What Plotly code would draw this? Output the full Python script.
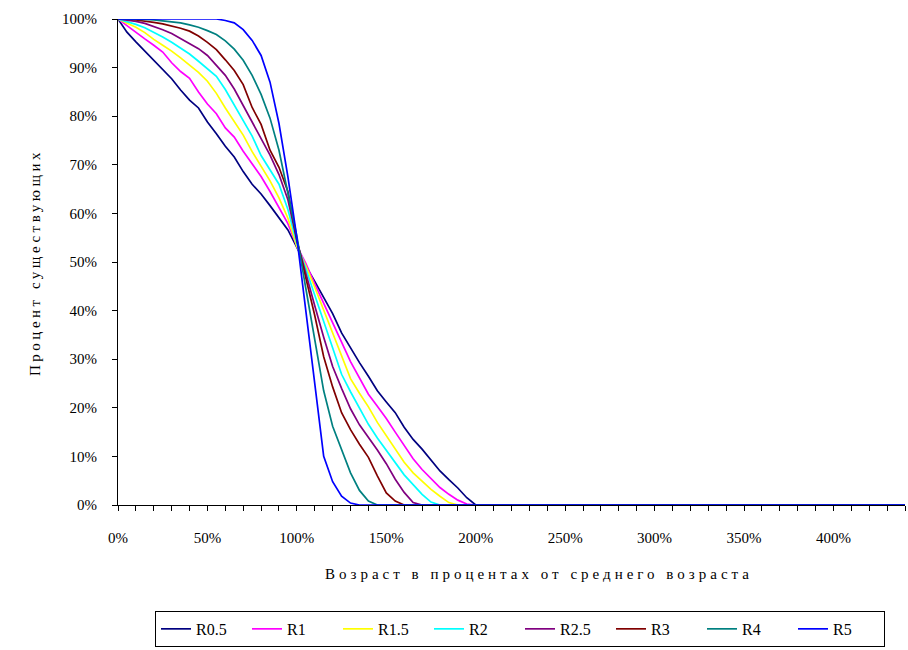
import plotly.graph_objects as go

# Age as a percentage of average age (x), survivors in percent (y)
AGE = list(range(0, 201, 5)) + [440]

R05 = [100, 97.3, 95.3, 93.4, 91.4, 89.6, 87.7, 85.4, 83.3, 81.7, 78.8, 76.4, 73.8, 71.6,
       68.6, 66, 64, 61.6, 59.2, 56.6, 53, 49.2, 46, 42.7, 39.4, 35.4, 32.2, 29.3, 26.5,
       23.5, 21.2, 19, 16, 13.5, 11.5, 9.3, 7, 5.2, 3.5, 1.5, 0, 0]
R1 = [100, 98.6, 97.2, 95.9, 94.6, 93.2, 91, 89.2, 87.8, 85, 82.5, 80.5, 77.6, 75.7, 72.8,
      70.3, 67.6, 64.5, 61.1, 57.9, 53.3, 49.7, 45.5, 41.6, 37.5, 33.5, 29.5, 26, 22.8,
      20.3, 17.8, 15, 12.2, 9.5, 7.3, 5.4, 3.6, 2.2, 1, 0.2, 0, 0]
R15 = [100, 99.2, 98.3, 97.2, 95.8, 94.6, 93.4, 92, 90.5, 89, 87.2, 84.7, 81.7, 78.9, 76.1,
       72.7, 69.6, 66.7, 63.2, 59, 53.2, 49.2, 44.8, 40.2, 35.5, 30.8, 26, 23, 20.2, 17,
       14.2, 11.5, 8.8, 6.6, 4.8, 3.2, 1.8, 0.5, 0, 0, 0, 0]
R2 = [100, 99.5, 98.9, 98.2, 97.3, 96.3, 95.2, 94, 92.8, 91.3, 89.8, 88.2, 85.5, 82.3, 79.2,
      75.9, 71.9, 68.8, 66, 60.8, 53.8, 48.6, 43.2, 37.5, 32, 26.9, 23.3, 19.8, 16.6, 13.8,
      11.2, 8.7, 6.2, 4.2, 2.2, 0.6, 0, 0, 0, 0, 0, 0]
R25 = [100, 99.8, 99.5, 99.1, 98.5, 97.8, 97, 96, 95, 93.9, 92.5, 90.5, 88.4, 85.6, 82.2,
       79, 75.6, 72, 68, 62.8, 54.4, 47.5, 41, 34.5, 28.5, 24, 19.8, 16.5, 14, 11.3, 8.5,
       5.3, 2.6, 0.5, 0, 0, 0, 0, 0, 0, 0, 0]
R3 = [100, 100, 99.8, 99.6, 99.3, 99, 98.6, 98.1, 97.5, 96.5, 95.2, 93.7, 91.6, 89.4, 86.5,
      81.8, 78.3, 73, 69.5, 64.5, 54.5, 46.8, 39, 30.5, 24.3, 19, 15.5, 12.5, 9.8, 6, 2.5,
      0.8, 0, 0, 0, 0, 0, 0, 0, 0, 0, 0]
R4 = [100, 100, 100, 99.9, 99.8, 99.6, 99.4, 99.2, 98.8, 98.3, 97.6, 96.8, 95.5, 93.8, 91.5,
      88.4, 84.5, 79.6, 73, 64.5, 55.3, 44.6, 33.8, 23.5, 16.2, 11.2, 6.6, 3, 0.8, 0, 0, 0,
      0, 0, 0, 0, 0, 0, 0, 0, 0, 0]
R5 = [100, 100, 100, 100, 100, 100, 100, 100, 100, 100, 100, 100, 99.7, 99.2, 97.8, 95.6,
      92.5, 87, 78.5, 67.5, 55, 40, 24.2, 10, 4.8, 1.8, 0.4, 0, 0, 0, 0, 0, 0, 0, 0, 0, 0,
      0, 0, 0, 0, 0]

NAMES = ["R0.5", "R1", "R1.5", "R2", "R2.5", "R3", "R4", "R5"]
SERIES = [R05, R1, R15, R2, R25, R3, R4, R5]
COLORS = ["#000080", "#FF00FF", "#FFFF00", "#00FFFF", "#800080", "#800000", "#008080", "#0000FF"]

X_TICKS = [0, 50, 100, 150, 200, 250, 300, 350, 400]
X_LABELS = ["0%", "50%", "100%", "150%", "200%", "250%", "300%", "350%", "400%"]
Y_TICKS = [0, 10, 20, 30, 40, 50, 60, 70, 80, 90, 100]
Y_LABELS = ["0%", "10%", "20%", "30%", "40%", "50%", "60%", "70%", "80%", "90%", "100%"]

FONT = "Liberation Serif, Times New Roman, serif"

fig = go.Figure()
for name, vals, col in zip(NAMES, SERIES, COLORS):
    fig.add_trace(go.Scatter(
        x=AGE, y=vals, name=name, mode="lines",
        line=dict(color=col, width=1.7), cliponaxis=False,
    ))

fig.update_layout(
    width=908, height=650,
    margin=dict(l=118, r=3, t=19, b=142),
    paper_bgcolor="white", plot_bgcolor="white",
    font=dict(family=FONT, size=15, color="black"),
    showlegend=True,
    legend=dict(
        orientation="h", x=0.047, xanchor="left", y=-0.218, yanchor="top",
        bordercolor="black", borderwidth=1, font=dict(family=FONT, size=16),
        itemwidth=30, entrywidth=46, traceorder="normal",
    ),
    xaxis=dict(
        range=[0, 440], tickvals=X_TICKS, ticktext=X_LABELS,
        ticks="outside", ticklen=5, tickcolor="black", tickwidth=1,
        minor=dict(dtick=10, ticks="outside", ticklen=5, tickcolor="black", tickwidth=1),
        showline=True, linecolor="black", linewidth=1,
        showgrid=False, zeroline=False, ticklabelstandoff=14,
        layer="below traces",
    ),
    yaxis=dict(
        range=[0, 100], tickvals=Y_TICKS, ticktext=Y_LABELS,
        ticks="outside", ticklen=5, tickcolor="black", tickwidth=1,
        showline=True, linecolor="black", linewidth=1,
        showgrid=False, zeroline=False, ticklabelstandoff=12,
        layer="below traces",
    ),
    annotations=[
        dict(text='<span style="letter-spacing:4px">Возраст в процентах от среднего возраста</span>',
             x=0.535, y=-0.141, xref="paper", yref="paper",
             xanchor="center", yanchor="middle", showarrow=False,
             font=dict(family=FONT, size=15)),
        dict(text='<span style="letter-spacing:3.5px">Процент существующих</span>',
             x=-0.1055, y=0.5, xref="paper", yref="paper", textangle=-90,
             xanchor="center", yanchor="middle", showarrow=False,
             font=dict(family=FONT, size=15)),
    ],
)

fig.write_html("out.html")
